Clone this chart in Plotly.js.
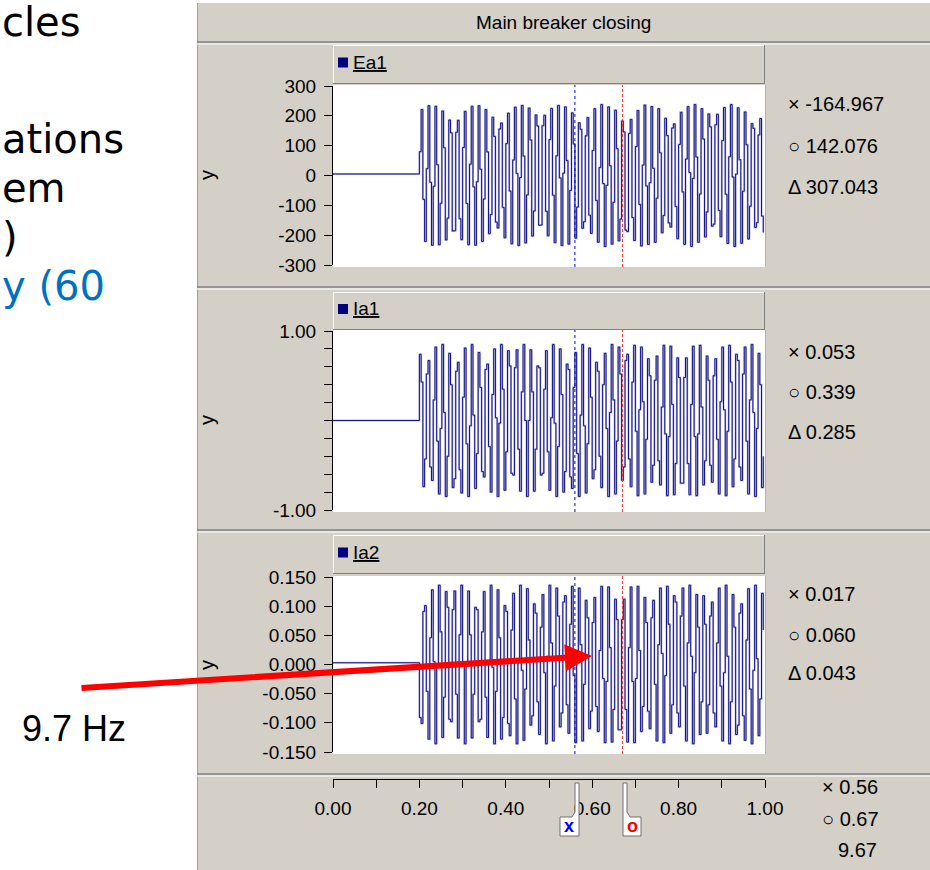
<!DOCTYPE html>
<html>
<head>
<meta charset="utf-8">
<script src="https://cdn.plot.ly/plotly-3.0.1.min.js"></script>
<style>html,body{margin:0;padding:0;background:#fff;}#chart{width:930px;height:870px;}</style>
</head>
<body>
<div id="chart"></div>
<script>
// ---------------- data ----------------
const chartTitle = 'Main breaker closing';
const seriesNames = ['Ea1', 'Ia1', 'Ia2'];
const sampleStart = 0.2;      // breaker closing instant (s)
const samplePeriod = 0.004;   // recorder sample period (s)

const ea1Pre = 5;
const ea1Active = [
  80,221,-80,-221, 23,234,-23,-234, -36,232,36,-232, -93,216,93,-216, -143,186,143,-186,
  -185,145,185,-145, -215,94,215,-94, -232,38,232,-38, -234,-21,234,21, -221,-79,221,79,
  -195,-131,195,131, -156,-176,156,176, -107,-209,107,209, -52,-229,52,229, 7,-235,-7,235,
  65,-226,-65,226, 119,-203,-119,203, 166,-167,-166,167, 202,-120,-202,120, 225,-66,-225,66,
  235,-8,-235,8, 230,50,-230,-50, 210,106,-210,-106, 177,155,-177,-155, 133,194,-133,-194,
  84,224,-84,-224, 27,238,-27,-238, -33,230,33,-230, -90,219,90,-219, -146,183,146,-183,
  -188,141,188,-141, -218,97,218,-97, -236,35,236,-35, -231,-24,231,24, -224,-76,224,76,
  -192,-134,192,134, -159,-173,159,173, -104,-212,104,212, -55,-231,55,231, 10,-238,-10,238,
  62,-224,-62,224, 122,-206,-122,206, 163,-170,-163,170, 205,-117,-205,117, 228,-63,-228,63,
  238,-5,-238,5, 227,53,-227,-53, 213,103,-213,-103, 174,158,-174,-158, 136,191,-136,-191
];

const ia1Pre = 0.0;
const ia1Active = [
  0.74,0.43,-0.74,-0.43, 0.52,0.67,-0.52,-0.67, 0.23,0.82,-0.23,-0.82, -0.09,0.85,0.09,-0.85, -0.40,0.75,0.40,-0.75,
  -0.65,0.55,0.65,-0.55, -0.81,0.26,0.81,-0.26, -0.85,-0.06,0.85,0.06, -0.76,-0.37,0.76,0.37, -0.57,-0.63,0.57,0.63,
  -0.29,-0.80,0.29,0.80, 0.03,-0.85,-0.03,0.85, 0.35,-0.78,-0.35,0.78, 0.61,-0.59,-0.61,0.59, 0.79,-0.32,-0.79,0.32,
  0.85,0.00,-0.85,0.00, 0.79,0.32,-0.79,-0.32, 0.61,0.59,-0.61,-0.59, 0.35,0.78,-0.35,-0.78, 0.03,0.85,-0.03,-0.85,
  -0.29,0.80,0.29,-0.80, -0.57,0.63,0.57,-0.63, -0.76,0.37,0.76,-0.37, -0.85,0.06,0.85,-0.06, -0.81,-0.26,0.81,0.26,
  -0.65,-0.55,0.65,0.55, -0.40,-0.75,0.40,0.75, -0.09,-0.85,0.09,0.85, 0.23,-0.82,-0.23,0.82, 0.52,-0.67,-0.52,0.67,
  0.74,-0.43,-0.74,0.43, 0.84,-0.12,-0.84,0.12, 0.82,0.21,-0.82,-0.21, 0.69,0.50,-0.69,-0.50, 0.45,0.72,-0.45,-0.72,
  0.15,0.84,-0.15,-0.84, -0.18,0.83,0.18,-0.83, -0.48,0.70,0.48,-0.70, -0.70,0.48,0.70,-0.48, -0.83,0.18,0.83,-0.18,
  -0.84,-0.15,0.84,0.15, -0.72,-0.45,0.72,0.45, -0.50,-0.69,0.50,0.69, -0.21,-0.82,0.21,0.82, 0.12,-0.84,-0.12,0.84,
  0.43,-0.74,-0.43,0.74, 0.67,-0.52,-0.67,0.52, 0.82,-0.23,-0.82,0.23, 0.85,0.09,-0.85,-0.09, 0.75,0.40,-0.75,-0.40
];

const ia2Pre = 0.003;
const ia2Active = [
  -0.091,-0.101,0.091,0.101, -0.046,-0.128,0.046,0.128, 0.005,-0.136,-0.005,0.136, 0.056,-0.125,-0.056,0.125, 0.098,-0.094,-0.098,0.094,
  0.126,-0.051,-0.126,0.051, 0.136,0.000,-0.136,0.000, 0.126,0.051,-0.126,-0.051, 0.098,0.094,-0.098,-0.094, 0.056,0.125,-0.056,-0.125,
  0.005,0.136,-0.005,-0.136, -0.046,0.128,0.046,-0.128, -0.091,0.101,0.091,-0.101, -0.122,0.059,0.122,-0.059, -0.136,0.010,0.136,-0.010,
  -0.130,-0.042,0.130,0.042, -0.104,-0.088,0.104,0.088, -0.064,-0.120,0.064,0.120, -0.014,-0.136,0.014,0.136, 0.037,-0.131,-0.037,0.131,
  0.083,-0.107,-0.083,0.107, 0.118,-0.069,-0.118,0.069, 0.134,-0.019,-0.134,0.019, 0.131,0.034,-0.131,-0.034, 0.110,0.080,-0.110,-0.080,
  0.072,0.115,-0.072,-0.115, 0.024,0.134,-0.024,-0.134, -0.029,0.133,0.029,-0.133, -0.077,0.112,0.077,-0.112, -0.112,0.077,0.112,-0.077,
  -0.133,0.029,0.133,-0.029, -0.134,-0.024,0.134,0.024, -0.115,-0.072,0.115,0.072, -0.080,-0.110,0.080,0.110, -0.034,-0.131,0.034,0.131,
  0.019,-0.134,-0.019,0.134, 0.069,-0.118,-0.069,0.118, 0.107,-0.083,-0.107,0.083, 0.131,-0.037,-0.131,0.037, 0.136,0.014,-0.136,-0.014,
  0.120,0.064,-0.120,-0.064, 0.118,0.069,-0.118,-0.069, 0.083,0.107,-0.083,-0.107, 0.037,0.131,-0.037,-0.131, -0.014,0.136,0.014,-0.136,
  -0.064,0.120,0.064,-0.120, -0.104,0.088,0.104,-0.088, -0.130,0.042,0.130,-0.042, -0.136,-0.010,0.136,0.010, -0.122,-0.059,0.122,0.059
];

const ea1TickVals = [-300,-200,-100,0,100,200,300];
const ea1TickText = ['-300','-200','-100','0','100','200','300'];
const ia1TickVals = [-1,-0.8,-0.6,-0.4,-0.2,0,0.2,0.4,0.6,0.8,1];
const ia1TickText = ['-1.00','','','','','','','','','','1.00'];
const ia2TickVals = [-0.15,-0.10,-0.05,0,0.05,0.10,0.15];
const ia2TickText = ['-0.150','-0.100','-0.050','0.000','0.050','0.100','0.150'];
const timeTickVals = [0,0.1,0.2,0.3,0.4,0.5,0.6,0.7,0.8,0.9,1.0];
const timeTickText = ['0.00','','0.20','','0.40','','0.60','','0.80','','1.00'];

const cursorX = 0.56, cursorO = 0.67;
const readouts = [
  ['\u00d7 -164.967', '\u25cb 142.076', '\u0394 307.043'],
  ['\u00d7 0.053', '\u25cb 0.339', '\u0394 0.285'],
  ['\u00d7 0.017', '\u25cb 0.060', '\u0394 0.043'],
  ['\u00d7 0.56', '\u25cb 0.67', '9.67']
];
const slideLines = ['cles', 'ations', 'em', ')', 'y (60'];
const arrowLabel = '9.7 Hz';

// ---------------- build ----------------
const W = 930, H = 870;
const px = v => v / W;
const py = v => 1 - v / H;
const UI = '"Liberation Sans", Arial, sans-serif';
const GRAY = '#D4D0C8';
const WAVE = '#14148a';
const WAVE_HALO = 'rgba(120,120,190,0.5)';

const activeTimes = ea1Active.map((_, i) => +(sampleStart + i * samplePeriod).toFixed(4));
const times = [0].concat(activeTimes);

function trace(pre, act, ya, color, width) {
  return {x: times, y: [pre].concat(act), xaxis: 'x', yaxis: ya, mode: 'lines',
          line: {shape: 'hv', color: color, width: width}, hoverinfo: 'skip', showlegend: false};
}
const data = [
  trace(ea1Pre, ea1Active, 'y', WAVE_HALO, 2), trace(ea1Pre, ea1Active, 'y', WAVE, 1),
  trace(ia1Pre, ia1Active, 'y2', WAVE_HALO, 2), trace(ia1Pre, ia1Active, 'y2', WAVE, 1),
  trace(ia2Pre, ia2Active, 'y3', WAVE_HALO, 2), trace(ia2Pre, ia2Active, 'y3', WAVE, 1)
];

const plotLeft = 333, plotRight = 765;
const panels = [
  {top: 86, bottom: 265, legTop: 45, legBot: 84, ya: 'y', readY: [104, 146, 187], yLab: 175},
  {top: 331, bottom: 510, legTop: 292, legBot: 330, ya: 'y2', readY: [352, 392, 432], yLab: 420},
  {top: 577, bottom: 752, legTop: 535, legBot: 574, ya: 'y3', readY: [594, 635, 673], yLab: 665}
];

const shapes = [];
function rect(x0, y0, x1, y1, fill, lineColor, layer) {
  shapes.push({type: 'rect', xref: 'paper', yref: 'paper', x0: px(x0), x1: px(x1), y0: py(y1), y1: py(y0),
    fillcolor: fill, line: {color: lineColor || 'rgba(0,0,0,0)', width: lineColor ? 1 : 0}, layer: layer || 'below'});
}
function hline(x0, x1, y, color, width) {
  shapes.push({type: 'line', xref: 'paper', yref: 'paper', x0: px(x0), x1: px(x1), y0: py(y), y1: py(y),
    line: {color: color, width: width || 1}, layer: 'below'});
}
function vline(x, y0, y1, color) {
  shapes.push({type: 'line', xref: 'paper', yref: 'paper', x0: px(x), x1: px(x), y0: py(y0), y1: py(y1),
    line: {color: color, width: 1}, layer: 'below'});
}
// window background
rect(197, 3, 930, 870, GRAY);
vline(197.5, 3, 870, '#A0A0A0');
// separators
[42, 287, 530, 774].forEach(y => { hline(197, 930, y, '#808080', 1.5); hline(197, 930, y + 2, '#FFFFFF', 1); });
// panels
panels.forEach(p => {
  rect(plotLeft, p.top - 1, plotRight, p.bottom + 2, '#FFFFFF');
  vline(plotRight + 0.5, p.top - 1, p.bottom + 2, '#B0B0B0');
  rect(plotLeft, p.legTop, plotRight, p.legBot, GRAY);
  hline(plotLeft, plotRight, p.legTop + 0.5, '#FFFFFF');
  vline(plotLeft + 0.5, p.legTop, p.legBot, '#FFFFFF');
  hline(plotLeft, plotRight, p.legBot - 0.5, '#808080');
  vline(plotRight - 0.5, p.legTop, p.legBot, '#808080');
  const cy = (p.legTop + p.legBot) / 2 - 2;
  rect(338, cy - 5, 348, cy + 5, '#000080');
  // cursors
  shapes.push({type: 'line', xref: 'x', yref: 'paper', x0: cursorX, x1: cursorX, y0: py(p.bottom + 2), y1: py(p.top - 1),
    line: {color: '#0000FF', width: 1, dash: 'dot'}, layer: 'above'});
  shapes.push({type: 'line', xref: 'x', yref: 'paper', x0: cursorO, x1: cursorO, y0: py(p.bottom + 2), y1: py(p.top - 1),
    line: {color: '#FF3030', width: 1, dash: '3px,2px'}, layer: 'above'});
});
// cursor flags on the time axis
function pathP(pts) {
  return 'M ' + pts.map(q => px(q[0]) + ',' + py(q[1])).join(' L ') + ' Z';
}
shapes.push({type: 'path', xref: 'paper', yref: 'paper', path: pathP([[575,783],[579,783],[579,836],[560,836],[560,817],[572,817],[575,812]]),
  fillcolor: '#FFFFFF', line: {color: '#707070', width: 1}, layer: 'above'});
shapes.push({type: 'path', xref: 'paper', yref: 'paper', path: pathP([[623,783],[627,783],[627,812],[630,817],[641,817],[641,836],[623,836]]),
  fillcolor: '#FFFFFF', line: {color: '#707070', width: 1}, layer: 'above'});

const annotations = [];
function txt(x, y, text, opts) {
  annotations.push(Object.assign({xref: 'paper', yref: 'paper', x: px(x), y: py(y), text: text, showarrow: false,
    xanchor: 'left', yanchor: 'middle', font: {family: UI, size: 20, color: '#000'}}, opts || {}));
}
txt(563, 22, chartTitle, {xanchor: 'center', font: {family: UI, size: 19, color: '#000'}});
panels.forEach((p, k) => {
  const cy = (p.legTop + p.legBot) / 2 - 2;
  txt(351, cy, '<u>' + seriesNames[k] + '</u>', {font: {family: UI, size: 19, color: '#000'}});
  p.readY.forEach((y, j) => txt(786, y, readouts[k][j]));
  txt(207, p.yLab, 'y', {xanchor: 'center', textangle: -90, font: {family: UI, size: 20, color: '#000'}});
});
txt(820, 787, readouts[3][0]);
txt(820, 819, readouts[3][1]);
txt(836, 850, readouts[3][2]);
txt(569, 826, '<b>x</b>', {xanchor: 'center', font: {family: UI, size: 18, color: '#0000FF'}});
txt(632, 826, '<b>o</b>', {xanchor: 'center', font: {family: UI, size: 18, color: '#FF0000'}});
// slide text
const slideY = [22, 139, 188, 237, 286];
slideLines.forEach((s, i) => txt(0, slideY[i], s, {font: {family: '"DejaVu Sans", Verdana, sans-serif', size: 40,
  color: i === 4 ? '#0070C0' : '#000'}}));
txt(20, 728, arrowLabel, {font: {family: UI, size: 36, color: '#000'}});
// red arrow
annotations.push({xref: 'paper', yref: 'paper', x: px(592), y: py(656), ax: 80 - 592, ay: 688 - 656,
  axref: 'pixel', ayref: 'pixel', showarrow: true, text: '', arrowhead: 2, arrowsize: 0.9, arrowwidth: 6, arrowcolor: '#FF0000'});

function yAxis(p, range, vals, textArr) {
  return {domain: [py(p.bottom), py(p.top)], range: range, anchor: 'x', tickmode: 'array', tickvals: vals, ticktext: textArr,
    ticks: 'outside', ticklen: 8, tickwidth: 1, tickcolor: '#000', showline: true, linecolor: '#000', linewidth: 1,
    showgrid: false, zeroline: false, ticklabelstandoff: 4, tickfont: {family: UI, size: 19, color: '#000'}, fixedrange: true};
}

const layout = {
  width: W, height: H, autosize: false, margin: {l: 0, r: 0, t: 0, b: 0},
  paper_bgcolor: '#FFFFFF', plot_bgcolor: 'rgba(0,0,0,0)', showlegend: false,
  xaxis: {domain: [px(plotLeft), px(plotRight)], range: [0, 1], anchor: 'free', position: py(779), side: 'bottom',
    tickmode: 'array', tickvals: timeTickVals, ticktext: timeTickText, ticks: 'outside', ticklen: 8, tickcolor: '#000',
    showline: true, linecolor: '#000', showgrid: false, zeroline: false, ticklabelstandoff: 4,
    tickfont: {family: UI, size: 19, color: '#000'}, fixedrange: true},
  yaxis: yAxis(panels[0], [-300, 300], ea1TickVals, ea1TickText),
  yaxis2: yAxis(panels[1], [-1, 1], ia1TickVals, ia1TickText),
  yaxis3: yAxis(panels[2], [-0.15, 0.15], ia2TickVals, ia2TickText),
  shapes: shapes, annotations: annotations
};

Plotly.newPlot('chart', data, layout, {staticPlot: true, displayModeBar: false});
</script>
</body>
</html>
